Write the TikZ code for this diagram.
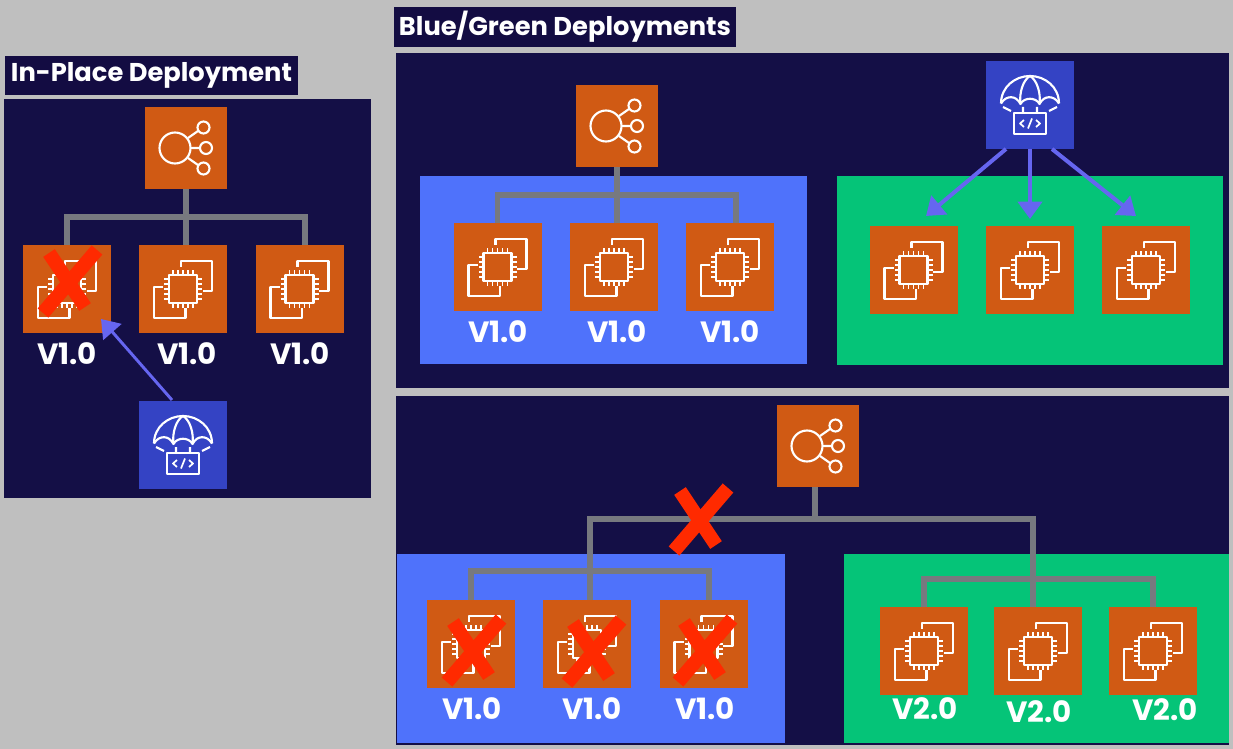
\documentclass[tikz,border=0pt]{standalone}
\usepackage{fontspec}
\setmainfont{Poppins}
\definecolor{panelnavy}{RGB}{20, 15, 70}
\definecolor{titlenavy}{RGB}{19, 12, 66}
\definecolor{awsorange}{RGB}{208, 90, 20}
\definecolor{awsblue}{RGB}{52, 67, 196}
\definecolor{bluefleet}{RGB}{79, 114, 251}
\definecolor{greenfleet}{RGB}{5, 196, 120}
\definecolor{busgray}{RGB}{119, 121, 127}
\definecolor{deployarrow}{RGB}{102, 102, 240}
\definecolor{crossred}{RGB}{255, 42, 0}
\usetikzlibrary{arrows.meta}

\begin{document}
\begin{tikzpicture}[
        x=0.75pt, y=-0.75pt,
        titlebar/.style={rectangle, fill=titlenavy, text=white, inner sep=0pt,
                         minimum height=29.5pt, font=\fontsize{19.3}{20}\selectfont\bfseries},
        lbbox/.style={rectangle, fill=awsorange, inner sep=0pt, minimum size=61.5pt},
        ec2box/.style={rectangle, fill=awsorange, inner sep=0pt, minimum size=66pt},
        deploybox/.style={rectangle, fill=awsblue, inner sep=0pt, minimum size=66pt},
        version/.style={text=white, inner sep=0pt, font=\fontsize{22}{24}\selectfont\bfseries},
        bus/.style={draw=busgray, line width=3.9pt},
        arrow/.style={-{Triangle[length=13pt, width=18pt]}, draw=deployarrow, line width=3pt},
        icon/.style={draw=white, line width=1.6pt, line join=round},
        ec2icon/.pic={
            \draw[icon] (-2,-22) -- (-2,-28) -- (29,-28) -- (29,2) -- (19.5,2);
            \draw[icon] (-20,-2) -- (-29,-2) -- (-29,29) -- (2.5,29) -- (2.5,19);
            \draw[icon, fill=awsorange] (-14,-14) rectangle (14,14);
            \foreach \t in {-10,-5,0,5,10} {
                \draw[icon, line width=1.2pt] (\t,-14) -- (\t,-19) (\t,14) -- (\t,19)
                    (-14,\t) -- (-19,\t) (14,\t) -- (19,\t);
            }
        },
        lbicon/.pic={
            \draw[icon] (-11,0) circle (15.5);
            \draw[icon] (17.5,-20.5) circle (6) (20,0) circle (6) (17.5,20.5) circle (6);
            \draw[icon] (2,-10) -- (12,-17) (4.5,0) -- (14,0) (2,10) -- (12,17);
        },
        deployicon/.pic={
            \draw[icon] (-29,-1.5) .. controls (-29,-18) and (-15,-29) .. (0,-29)
                .. controls (15,-29) and (29,-18) .. (29,-1.5);
            \draw[icon] (-29,-1.5) .. controls (-24,-10) and (-14,-10) .. (-9.5,-1)
                .. controls (-6,-8) and (6,-8) .. (9.5,-1)
                .. controls (14,-10) and (24,-10) .. (29,-1.5);
            \draw[icon] (-9.5,-1) .. controls (-11,-12) and (-7,-25) .. (0,-29)
                .. controls (7,-25) and (11,-12) .. (9.5,-1);
            \draw[icon] (-27,2) -- (-19,6) (27,2) -- (19,6) (-7,2) -- (-7,7) (7,2) -- (7,7);
            \draw[icon] (-16,8) rectangle (16,29);
            \draw[icon, line width=1.3pt] (-6,15) -- (-10,18.5) -- (-6,22)
                (6,15) -- (10,18.5) -- (6,22) (-2,23.5) -- (2,13.5);
        },
        crossmark/.pic={
            \draw[crossred, line width=10.5pt] (-19,-28) -- (17,26);
            \draw[crossred, line width=10.5pt] (29,-31) -- (-25,32);
        }
    ]
        % Page and panels
        \fill[black!25] (0,0) rectangle (1233,749);
        \fill[panelnavy] (4,99) rectangle (371,498);
        \fill[panelnavy] (396,53) rectangle (1229,388);
        \fill[panelnavy] (396,396) rectangle (1229,745);
        \fill[bluefleet] (420,176) rectangle (807,364);
        \fill[greenfleet] (837,176) rectangle (1223,365);
        \fill[bluefleet] (397,554) rectangle (785,743);
        \fill[greenfleet] (844,554) rectangle (1229,743);

        % Titles
        \node[titlebar, minimum width=219.75pt] (inplace) at (151.5,75.5) {In-Place Deployment};
        \node[titlebar, minimum width=256.5pt] (bluegreen) at (565,27) {Blue/Green Deployments};

        % In-place panel
        \node[lbbox] (lbA) at (186,148) {};
        \pic at (lbA) {lbicon};
        \node[ec2box] (ipA) at (67,289) {};
        \node[ec2box] (ipB) at (183,289) {};
        \node[ec2box] (ipC) at (299.5,289) {};
        \pic at (ipA) {ec2icon};
        \pic at (ipB) {ec2icon};
        \pic at (ipC) {ec2icon};
        \coordinate (busA) at (186,217);
        \draw[bus] (lbA.south) -- (busA);
        \draw[bus] (busA) -| (ipA.north);
        \draw[bus] (busA) -- (186,245);
        \draw[bus] (busA) -| (305,245);
        \node[version] (ipAv) at (67,354) {V1.0};
        \node[version] (ipBv) at (187,354) {V1.0};
        \node[version] (ipCv) at (300,354) {V1.0};
        \node[deploybox] (depA) at (183,445) {};
        \pic at (depA) {deployicon};
        \coordinate (ipAhit) at (101,319);
        \draw[arrow, line width=2.2pt] (172,400) -- (ipAhit);
        \pic at (68,281) {crossmark};

        % Blue fleet, before the switch
        \node[lbbox] (lbB) at (617,126) {};
        \pic at (lbB) {lbicon};
        \node[ec2box] (blA) at (497.5,267) {};
        \node[ec2box] (blB) at (614,267) {};
        \node[ec2box] (blC) at (730,267) {};
        \pic at (blA) {ec2icon};
        \pic at (blB) {ec2icon};
        \pic at (blC) {ec2icon};
        \coordinate (busB) at (617,195);
        \draw[bus] (lbB.south) -- (busB);
        \draw[bus] (busB) -| (blA.north);
        \draw[bus] (busB) -- (617,223);
        \draw[bus] (busB) -| (736,223);
        \node[version] (blAv) at (498,332) {V1.0};
        \node[version] (blBv) at (617,332) {V1.0};
        \node[version] (blCv) at (730,332) {V1.0};

        % Green fleet, being deployed to
        \node[deploybox] (depB) at (1030,105) {};
        \pic at (depB) {deployicon};
        \node[ec2box] (grA) at (913.5,270) {};
        \node[ec2box] (grB) at (1030,270) {};
        \node[ec2box] (grC) at (1146,270) {};
        \pic at (grA) {ec2icon};
        \pic at (grB) {ec2icon};
        \pic at (grC) {ec2icon};
        \coordinate (grAhit) at (926,216);
        \coordinate (grBhit) at (1030,219);
        \coordinate (grChit) at (1136,216);
        \draw[arrow] (1006,149) -- (grAhit);
        \draw[arrow] (depB.south) -- (grBhit);
        \draw[arrow] (1052,149) -- (grChit);

        % After the switch
        \node[lbbox] (lbC) at (818,446) {};
        \pic at (lbC) {lbicon};
        \coordinate (busC) at (815,519);
        \coordinate (busD) at (590,571);
        \coordinate (busE) at (1033,579);
        \draw[bus] (815,487) -- (busC);
        \draw[bus] (busD) |- (busC) -| (busE);

        % Old blue fleet
        \node[ec2box] (olA) at (471,644) {};
        \node[ec2box] (olB) at (587,644) {};
        \node[ec2box] (olC) at (703.5,644) {};
        \pic at (olA) {ec2icon};
        \pic at (olB) {ec2icon};
        \pic at (olC) {ec2icon};
        \draw[bus] (busD) -| (olA.north);
        \draw[bus] (busD) -- (590,600);
        \draw[bus] (busD) -| (709,600);
        \node[version] (olAv) at (472,709) {V1.0};
        \node[version] (olBv) at (592,709) {V1.0};
        \node[version] (olCv) at (705,709) {V1.0};
        \pic at (472,650) {crossmark};
        \pic at (592,651) {crossmark};
        \pic at (703,650) {crossmark};
        \pic at (699,519) {crossmark};

        % New green fleet
        \node[ec2box] (nwA) at (924,651) {};
        \node[ec2box] (nwB) at (1038,651) {};
        \node[ec2box] (nwC) at (1153,651) {};
        \pic at (nwA) {ec2icon};
        \pic at (nwB) {ec2icon};
        \pic at (nwC) {ec2icon};
        \draw[bus] (busE) -| (nwA.north);
        \draw[bus] (busE) -- (1033,607);
        \draw[bus] (busE) -| (nwC.north);
        \node[version] (nwAv) at (925,709) {V2.0};
        \node[version] (nwBv) at (1039,712) {V2.0};
        \node[version] (nwCv) at (1165,710) {V2.0};
    \end{tikzpicture}
\end{document}
